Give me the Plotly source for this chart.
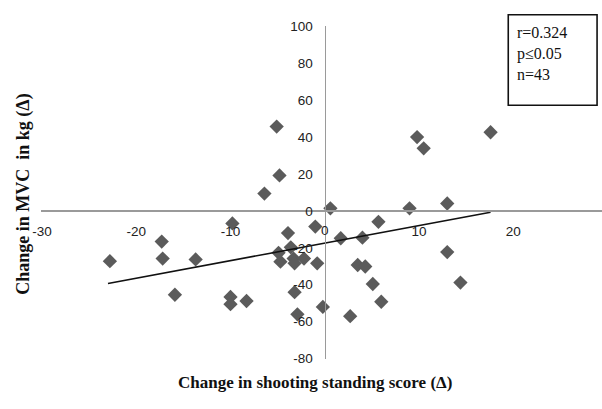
import plotly.graph_objects as go

# Data
shoot_change = [-22.8, -17.3, -17.2, -13.7, -15.9, -9.8, -10.0, -10.0, -8.3,
                -6.4, -5.1, -4.8, -3.9, -4.9, -3.6, -4.7, -3.3, -3.2, -2.2,
                -0.8, -1.0, -3.2, -2.9, -0.2, 0.6, 1.7, 2.7, 3.5, 4.3, 4.0,
                5.7, 5.1, 6.0, 9.0, 13.0, 13.0, 14.4, 9.8, 10.5, 17.6]
mvc_change = [-27.2, -16.6, -25.8, -26.3, -45.4, -6.8, -46.6, -50.5, -48.8,
              9.4, 45.7, 19.2, -12.0, -22.7, -19.7, -27.5, -25.8, -28.4, -25.8,
              -28.4, -8.5, -44.0, -56.0, -52.0, 1.4, -14.8, -57.0, -29.3, -30.1, -14.5,
              -5.9, -39.6, -49.2, 1.4, 4.0, -22.3, -38.8, 40.0, 33.9, 42.6]
trend_x = [-23.0, 17.6]
trend_y = [-39.3, -0.7]
x_ticks = [-30, -20, -10, 10, 20]
y_ticks = [-80, -60, -40, -20, 0, 20, 40, 60, 80, 100]
stats_lines = ["r=0.324", "p≤0.05", "n=43"]
x_title = "Change in shooting standing score (Δ)"
y_title = "Change in MVC  in kg (Δ)"

W, H = 602, 409
# axis geometry (pixels)
x_left_px, x_right_px = 33, 602
x0_px, px_per_x = 321, 9.55
y_top_px, y_bot_px = 20, 365
x_range = [(x_left_px - x0_px) / px_per_x, (x_right_px - x0_px) / px_per_x]
y_range = [-80, 100]
x_dom = [x_left_px / W, x_right_px / W]
y_dom = [(H - y_bot_px) / H, (H - y_top_px) / H]
xaxis_pos = y_dom[0] + (0 - y_range[0]) / (y_range[1] - y_range[0]) * (y_dom[1] - y_dom[0])
yaxis_pos = x_dom[0] + (0 - x_range[0]) / (x_range[1] - x_range[0]) * (x_dom[1] - x_dom[0])

fig = go.Figure()
fig.add_trace(go.Scatter(
    x=shoot_change, y=mvc_change, mode="markers",
    marker=dict(symbol="diamond", size=11, color="#5b5b5b", line=dict(width=0)),
    showlegend=False, cliponaxis=False))
fig.add_trace(go.Scatter(
    x=trend_x, y=trend_y, mode="lines",
    line=dict(color="#111111", width=1.6), showlegend=False))

tick_font = dict(family="Liberation Sans, Arial, sans-serif", size=13.5, color="#222222")
fig.update_layout(
    width=W, height=H,
    margin=dict(l=0, r=0, t=0, b=0),
    paper_bgcolor="white", plot_bgcolor="white",
    xaxis=dict(range=x_range, domain=x_dom, anchor="free", position=xaxis_pos,
               showgrid=False, zeroline=False, showline=True, linecolor="#9a9a9a",
               linewidth=1.6, tickmode="array", tickvals=x_ticks,
               ticktext=[str(v) for v in x_ticks],
               ticks="outside", ticklen=8, tickcolor="rgba(0,0,0,0)",
               tickfont=tick_font),
    yaxis=dict(range=y_range, domain=y_dom, anchor="free", position=yaxis_pos,
               showgrid=False, zeroline=False, showline=True, linecolor="#9a9a9a",
               linewidth=1.3, tickmode="array", tickvals=y_ticks,
               ticktext=[str(v) for v in y_ticks],
               ticks="outside", ticklen=9, tickcolor="rgba(0,0,0,0)",
               tickfont=tick_font),
)

# the x tick label at 0, where the two axes cross
fig.add_annotation(text="0", xref="x", yref="paper", x=0.0,
                   y=(H - 232) / H, showarrow=False, xanchor="center", yanchor="middle",
                   font=tick_font)

# axis titles
fig.add_annotation(text="<b>" + x_title + "</b>", xref="paper", yref="paper",
                   x=311 / W, y=(H - 390) / H, showarrow=False,
                   xanchor="center", yanchor="middle",
                   font=dict(family="Liberation Serif, Times New Roman, serif", size=17,
                             color="#111111"))
fig.add_annotation(text="<b>" + y_title.replace("  ", "&nbsp; ") + "</b>", xref="paper", yref="paper",
                   x=16 / W, y=(H - 194) / H, showarrow=False, textangle=-90,
                   xanchor="center", yanchor="middle",
                   font=dict(family="Liberation Serif, Times New Roman, serif", size=18,
                             color="#111111"))

# stats box
fig.add_shape(type="rect", xref="paper", yref="paper",
              x0=507 / W, x1=597 / W, y0=(H - 102) / H, y1=(H - 8) / H,
              line=dict(color="#111111", width=1.6), fillcolor="rgba(0,0,0,0)")
fig.add_annotation(text="<br>".join(stats_lines), xref="paper", yref="paper",
                   x=514 / W, y=(H - 16) / H, showarrow=False, align="left",
                   xanchor="left", yanchor="top",
                   font=dict(family="Liberation Serif, Times New Roman, serif", size=16,
                             color="#111111"))

fig.write_html("out.html")
